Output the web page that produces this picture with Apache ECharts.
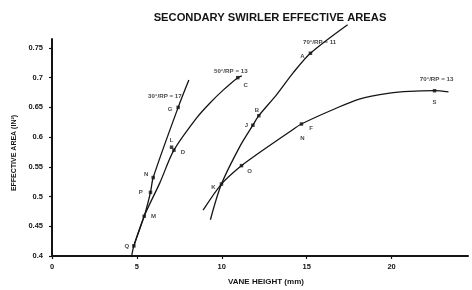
<!DOCTYPE html>
<html>
<head>
<meta charset="utf-8">
<script src="https://cdn.jsdelivr.net/npm/echarts@6/dist/echarts.min.js"></script>
<style>html,body{margin:0;padding:0;background:#fff}#c{width:472px;height:290px}</style>
</head>
<body>
<div id="c"></div>
<script>
// ---- data ----
const xTicks = [0, 5, 10, 15, 20];
const yTicks = [0.4, 0.45, 0.5, 0.55, 0.6, 0.65, 0.7, 0.75];

const vane30 = [4.68, 4.82, 5.43, 5.80, 5.96, 7.43, 8.06];
const area30 = [0.398, 0.417, 0.467, 0.507, 0.532, 0.650, 0.696];

const vane50 = [4.82, 5.43, 6.35, 7.18, 8.51, 9.29, 10.08, 10.94, 11.18];
const area50 = [0.417, 0.467, 0.523, 0.578, 0.632, 0.657, 0.679, 0.700, 0.703];

const vane70a = [9.33, 9.98, 11.06, 11.83, 12.18, 13.22, 14.20, 15.22, 17.41];
const area70a = [0.461, 0.521, 0.584, 0.620, 0.636, 0.671, 0.708, 0.741, 0.789];

const vane70b = [8.90, 9.98, 11.16, 12.12, 14.00, 14.69, 16.53, 18.10, 19.88, 21.06, 22.53, 23.35];
const area70b = [0.477, 0.521, 0.552, 0.572, 0.609, 0.622, 0.646, 0.664, 0.674, 0.677, 0.678, 0.676];

const pointNames = ['Q', 'M', 'P', 'N', 'G', 'L', 'D', 'C', 'A', 'B', 'J', 'K', 'O', 'F', 'S'];
const pointVane  = [4.82, 5.43, 5.80, 5.96, 7.43, 7.04, 7.18, 10.94, 15.22, 12.18, 11.83, 9.98, 11.16, 14.69, 22.53];
const pointArea  = [0.417, 0.467, 0.507, 0.532, 0.650, 0.583, 0.578, 0.700, 0.741, 0.636, 0.620, 0.521, 0.552, 0.622, 0.678];

const noteNames = ['N'];
const noteVane  = [14.69];
const noteArea  = [0.622];

const curveNames = ['30°/RP = 17', '50°/RP = 13', '70°/RP = 11', '70°/RP = 13'];
const curveLabelVane = [6.65, 10.53, 15.76, 22.65];
const curveLabelArea = [0.668, 0.710, 0.759, 0.698];

// ---- styling ----
const INK = '#141414';
const FONT = '"Liberation Sans", Arial, sans-serif';
const zip = (a, b) => a.map((v, i) => [v, b[i]]);

const labelStyle = {
  Q: {position: 'left', distance: 3},
  M: {position: 'right', distance: 5},
  P: {position: 'left', distance: 6},
  N: {position: 'left', distance: 3, offset: [0, -3]},
  G: {position: 'left', distance: 4, offset: [0, 2]},
  L: {position: 'top', distance: 2},
  D: {position: 'right', distance: 5, offset: [0, 2]},
  C: {position: 'right', distance: 4, offset: [0, 8]},
  A: {position: 'left', distance: 4, offset: [0, 3]},
  B: {position: 'top', distance: 1, offset: [-2, 0]},
  J: {position: 'left', distance: 3},
  K: {position: 'left', distance: 4, offset: [0, 3]},
  O: {position: 'right', distance: 4, offset: [0, 6]},
  F: {position: 'right', distance: 6, offset: [0, 4]},
  S: {position: 'bottom', distance: 7}
};

function lineSeries(name, data) {
  return {
    name, type: 'line', data, smooth: 0.3, showSymbol: false, clip: false,
    lineStyle: {color: INK, width: 1.3}, z: 2, silent: true
  };
}

const chart = echarts.init(document.getElementById('c'), null, {renderer: 'canvas'});
chart.setOption({
  backgroundColor: '#fff',
  animation: false,
  title: {
    text: 'SECONDARY SWIRLER EFFECTIVE AREAS',
    left: 265, top: 7, textAlign: 'center',
    textStyle: {fontFamily: FONT, fontSize: 11.2, fontWeight: 'bold', color: INK}
  },
  grid: {left: 52, right: 4, top: 39, bottom: 34, containLabel: false, outerBoundsMode: 'none'},
  xAxis: {
    type: 'value', min: 0, max: 24.5, interval: 5,
    name: 'VANE HEIGHT (mm)', nameLocation: 'middle', nameGap: 22,
    nameTextStyle: {fontFamily: FONT, fontSize: 8, fontWeight: 'bold', color: INK, padding: [0, 0, 0, 12]},
    axisLine: {lineStyle: {color: INK, width: 2}},
    axisTick: {length: 3, lineStyle: {color: INK, width: 1.2}},
    axisLabel: {
      showMaxLabel: false, margin: 7, color: INK,
      fontFamily: FONT, fontSize: 7.5, fontWeight: 'bold',
      formatter: v => xTicks.includes(v) ? String(v) : ''
    },
    splitLine: {show: false}
  },
  yAxis: {
    type: 'value', min: 0.4, max: 0.765, interval: 0.05,
    name: 'EFFECTIVE AREA (IN²)', nameLocation: 'middle', nameGap: 33, nameRotate: 90,
    nameTextStyle: {fontFamily: FONT, fontSize: 7, fontWeight: 'bold', color: INK, padding: [0, 11, 0, 0]},
    axisLine: {show: true, lineStyle: {color: INK, width: 2}},
    axisTick: {show: true, length: 3, lineStyle: {color: INK, width: 1.2}},
    axisLabel: {
      showMaxLabel: false, margin: 9, color: INK,
      fontFamily: FONT, fontSize: 7.5, fontWeight: 'bold',
      formatter: v => {
        const t = yTicks.find(y => Math.abs(y - v) < 1e-6);
        return t === undefined ? '' : String(t);
      }
    },
    splitLine: {show: false}
  },
  series: [
    lineSeries(curveNames[0], zip(vane30, area30)),
    lineSeries(curveNames[1], zip(vane50, area50)),
    lineSeries(curveNames[2], zip(vane70a, area70a)),
    lineSeries(curveNames[3], zip(vane70b, area70b)),
    {
      type: 'scatter', symbol: 'rect', symbolSize: 3.5, z: 3, silent: true,
      itemStyle: {color: INK},
      data: pointNames.map((n, i) => ({
        value: [pointVane[i], pointArea[i]], name: n,
        label: Object.assign({show: true, formatter: n}, labelStyle[n])
      })),
      label: {show: true, color: INK, fontFamily: FONT, fontSize: 6, fontWeight: 'bold'}
    },
    {
      type: 'scatter', symbolSize: 0, z: 3, silent: true,
      data: noteNames.map((n, i) => ({value: [noteVane[i], noteArea[i]], name: n})),
      label: {show: true, formatter: p => p.name, position: 'bottom', distance: 11, offset: [1, 0],
              color: INK, fontFamily: FONT, fontSize: 6, fontWeight: 'bold'}
    },
    {
      type: 'scatter', symbolSize: 0, z: 3, silent: true, clip: false,
      data: curveNames.map((n, i) => ({value: [curveLabelVane[i], curveLabelArea[i]], name: n})),
      label: {show: true, formatter: p => p.name, position: 'inside',
              color: INK, fontFamily: FONT, fontSize: 6.2, fontWeight: 'bold'}
    }
  ]
});
</script>
</body>
</html>
